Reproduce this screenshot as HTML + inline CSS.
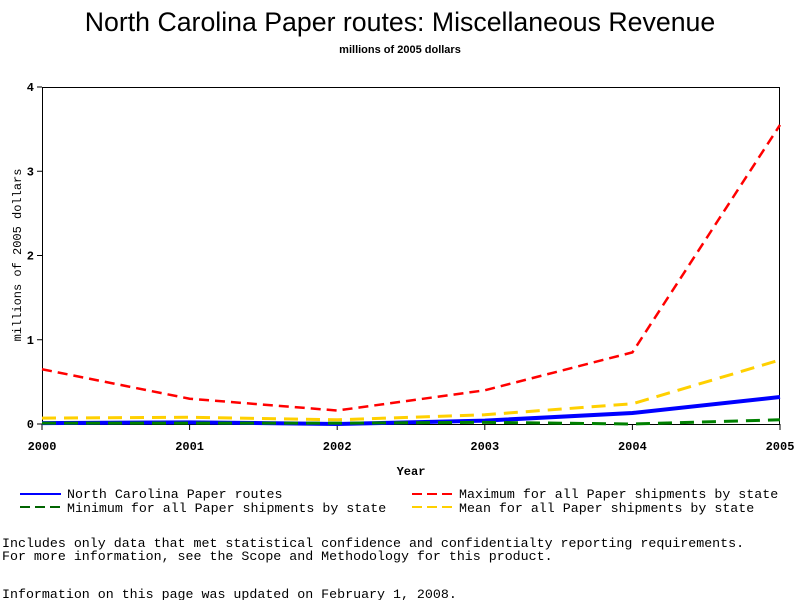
<!DOCTYPE html>
<html><head><meta charset="utf-8"><style>
body{margin:0;background:#fff;}
svg text{font-family:"Liberation Mono",monospace;}
</style></head><body>
<svg width="800" height="600" xmlns="http://www.w3.org/2000/svg">
<text x="400" y="31" text-anchor="middle" font-size="26.7" style="font-family:'Liberation Sans',sans-serif">North Carolina Paper routes: Miscellaneous Revenue</text>
<text x="400" y="53" text-anchor="middle" font-size="11" font-weight="bold" style="font-family:'Liberation Sans',sans-serif">millions of 2005 dollars</text>
<rect x="42.5" y="87.5" width="737" height="337" fill="none" stroke="#000"/>
<g id="axes"></g>
<g id="series"></g>
<text x="411" y="475" text-anchor="middle" font-size="12" font-weight="bold">Year</text>
<text transform="translate(21,255) rotate(-90)" text-anchor="middle" font-size="12">millions of 2005 dollars</text>
<g font-size="13.3">
<line x1="20" y1="494" x2="61" y2="494" stroke="#00f" stroke-width="2"/>
<text x="67" y="498">North Carolina Paper routes</text>
<line x1="20" y1="507" x2="61" y2="507" stroke="#006400" stroke-width="2" stroke-dasharray="10,5"/>
<text x="67" y="512">Minimum for all Paper shipments by state</text>
<line x1="412" y1="494" x2="453" y2="494" stroke="#f00" stroke-width="2" stroke-dasharray="10,5"/>
<text x="459" y="498">Maximum for all Paper shipments by state</text>
<line x1="412" y1="507" x2="453" y2="507" stroke="#ffd000" stroke-width="2" stroke-dasharray="10,5"/>
<text x="459" y="512">Mean for all Paper shipments by state</text>
</g>
<g font-size="13.3">
<text x="2" y="547">Includes only data that met statistical confidence and confidentialty reporting requirements.</text>
<text x="2" y="560">For more information, see the Scope and Methodology for this product.</text>
<text x="2" y="598">Information on this page was updated on February 1, 2008.</text>
</g>
</svg>
<script>
const years = [2000, 2001, 2002, 2003, 2004, 2005];
const yTicks = [0, 1, 2, 3, 4];
const ncValues = [0.01, 0.02, 0.0, 0.04, 0.13, 0.32];
const minValues = [0.01, 0.01, 0.01, 0.02, 0.0, 0.05];
const maxValues = [0.65, 0.30, 0.16, 0.40, 0.85, 3.55];
const meanValues = [0.07, 0.08, 0.05, 0.11, 0.24, 0.76];
const NS = "http://www.w3.org/2000/svg";
const xs = y => 42 + (y - 2000) / 5 * 738;
const ys = v => 424 - v / 4 * 337;
const axes = document.getElementById('axes');
function mk(tag, attrs, parent) { const e = document.createElementNS(NS, tag); for (const k in attrs) e.setAttribute(k, attrs[k]); parent.appendChild(e); return e; }
years.forEach(y => {
  const t = mk('line', {x1: xs(y), x2: xs(y), y1: 424, y2: 430, stroke: '#000'}, axes);
  
  
  const l = mk('text', {x: xs(y), y: 450, 'text-anchor': 'middle', 'font-size': 12, 'font-weight': 'bold'}, axes);
  l.textContent = y;
  
  
});
yTicks.forEach(v => {
  const t = mk('line', {x1: 37, x2: 42, y1: ys(v), y2: ys(v), stroke: '#000'}, axes);
  
  
  const l = mk('text', {x: 34, y: ys(v) + 4, 'text-anchor': 'end', 'font-size': 12, 'font-weight': 'bold'}, axes);
  l.textContent = v;
  
  
});
const series = document.getElementById('series');
function line(vals, color, width, dash, name) {
  const p = mk('polyline', {points: vals.map((v, i) => xs(years[i]) + ',' + ys(v)).join(' '), fill: 'none', stroke: color, 'stroke-width': width}, series);
  if (dash) p.setAttribute('stroke-dasharray', dash);
  
  
}
line(maxValues, '#f00', 2.5, '10,6', 'max-line');
line(meanValues, '#ffd000', 3, '14,8', 'mean-line');
line(ncValues, '#00f', 4, null, 'nc-line');
line(minValues, '#008000', 3, '14,8', 'min-line');
</script>
</body></html>
